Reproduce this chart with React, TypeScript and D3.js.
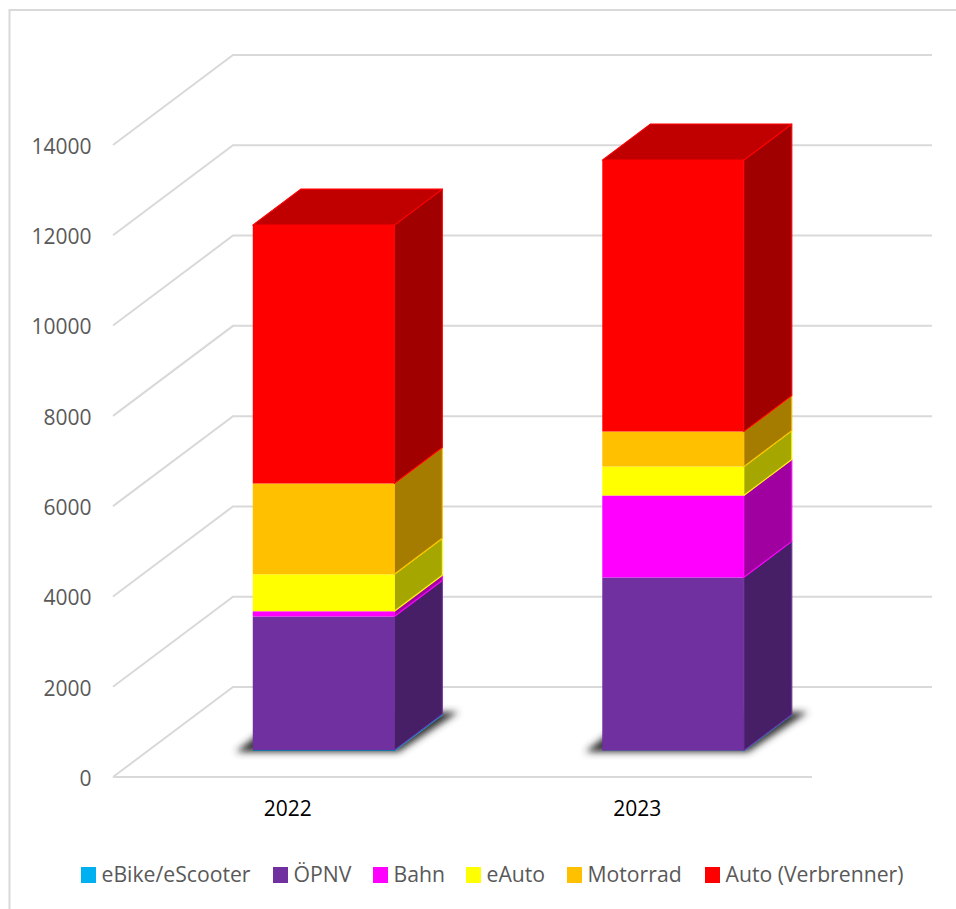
import React from "react";
import * as d3 from "d3";

const years = ["2022", "2023"];
const seriesNames = ["eBike/eScooter", "ÖPNV", "Bahn", "eAuto", "Motorrad", "Auto (Verbrenner)"];
const eBike = [18, 8];
const oepnv = [2960, 3835];
const bahn = [115, 1815];
const eAuto = [820, 640];
const motorrad = [2010, 775];
const autoVerbrenner = [5725, 6015];
const seriesValues = [eBike, oepnv, bahn, eAuto, motorrad, autoVerbrenner];
const frontColors = ["#1478A8", "#7030A0", "#FF00FF", "#FFFF00", "#FFC000", "#FF0000"];
const edgeColors = ["#00B0F0", "#7030A0", "#FF00FF", "#FFFF00", "#FFC000", "#FF0000"];
const sideColors = ["#006F98", "#471F66", "#A000A0", "#A6A600", "#A67C00", "#A00000"];
const axisTicks = [0, 2000, 4000, 6000, 8000, 10000, 12000, 14000];
const legendOffsets = [81, 273, 373, 466, 567, 705];
const TOP_COLOR = "#C00000";

const WIDTH = 956;
const HEIGHT = 909;
const GRID = "#D9D9D9";
const LABEL = "#595959";
const FONT = "'Open Sans', sans-serif";

// Front plane of the value axis; the oblique projection shifts by depth.
const yValue = d3.scaleLinear().domain([0, 14000]).range([777, 145]);
const depthX = d3.scaleLinear().domain([0, 1]).range([0, 120]);
const depthY = d3.scaleLinear().domain([0, 1]).range([0, -90]);
const xFloor = d3.scaleBand().domain(years).range([113, 812]);
const xBand = d3.scaleBand().domain(years).range([114, 813]).paddingInner(0.595).paddingOuter(0.2975);

const BAR_NEAR = 0.29;
const BAR_FAR = 0.69;

function project(x: number, value: number, depth: number): [number, number] {
  return [x + depthX(depth), yValue(value) + depthY(depth)];
}

function pts(list: [number, number][]): string {
  return list.map((p) => p.join(",")).join(" ");
}

function Bar({ year, index }: { year: string; index: number }) {
  const x0 = xBand(year) as number;
  const x1 = x0 + xBand.bandwidth();
  const stack = d3.cumsum(seriesValues.map((s) => s[index]));
  const total = stack[stack.length - 1];

  const [sx0, sy] = project(x0, 0, BAR_NEAR);
  const [sx1] = project(x1, 0, BAR_NEAR);
  const [fx1, fy] = project(x1, 0, BAR_FAR);
  const [fx0] = project(x0, 0, BAR_FAR);
  const shadow: [number, number][] = [
    [sx0 - 17, sy + 1],
    [sx1 + 4, sy + 1],
    [fx1 + 16, fy - 3],
    [fx0 - 14, fy - 3],
  ];

  return (
    <g>
      <polygon points={pts(shadow)} fill="#333333" filter="url(#floorShadow)" />
      {seriesValues.map((_, i) => {
        const lo = i === 0 ? 0 : stack[i - 1];
        const hi = stack[i];
        const a = project(x0, lo, BAR_NEAR);
        const b = project(x1, lo, BAR_NEAR);
        const c = project(x1, hi, BAR_NEAR);
        const d = project(x0, hi, BAR_NEAR);
        const e = project(x1, lo, BAR_FAR);
        const f = project(x1, hi, BAR_FAR);
        return (
          <g key={seriesNames[i]}>
            <polygon points={pts([b, e, f, c])} fill={sideColors[i]} stroke={edgeColors[i]} strokeWidth={1.1} strokeLinejoin="round" />
            <polygon points={pts([a, b, c, d])} fill={frontColors[i]} />
          </g>
        );
      })}
      <polygon
        points={pts([
          project(x0, total, BAR_NEAR),
          project(x1, total, BAR_NEAR),
          project(x1, total, BAR_FAR),
          project(x0, total, BAR_FAR),
        ])}
        fill={TOP_COLOR}
        stroke={edgeColors[5]}
        strokeWidth={1.1}
        strokeLinejoin="round"
      />
    </g>
  );
}

export default function App() {
  return (
    <svg
      width={WIDTH}
      height={HEIGHT}
      viewBox={`0 0 ${WIDTH} ${HEIGHT}`}
      style={{ position: "absolute", left: 0, top: 0, background: "#fff", fontFamily: FONT }}
    >
      <defs>
        <filter id="floorShadow" x="-20%" y="-40%" width="140%" height="180%">
          <feGaussianBlur stdDeviation="3.6" />
        </filter>
      </defs>
      {/* The frame runs along the top and left; its other sides fall outside the canvas */}
      <path d={`M9.5 ${HEIGHT} V10 H${WIDTH}`} fill="none" stroke={GRID} strokeWidth={2} />

      {/* Walls and floor gridlines */}
      {axisTicks.map((t) => {
        const [lx, ly] = project(113, t, 0);
        const [bx, by] = project(113, t, 1);
        const [rx, ry] = project(812, t, 1);
        return (
          <polyline
            key={t}
            points={pts([[lx, ly], [bx, by], [rx, ry]])}
            fill="none"
            stroke={GRID}
            strokeWidth={2}
          />
        );
      })}
      <line x1={113} x2={812} y1={yValue(0)} y2={yValue(0)} stroke={GRID} strokeWidth={2} />

      {axisTicks.map((t) => (
        <text key={t} x={91.5} y={yValue(t) + 1.5} dy="0.35em" textAnchor="end" fontSize={21} fill={LABEL}>
          {t}
        </text>
      ))}

      {years.map((y, i) => (
        <Bar key={y} year={y} index={i} />
      ))}

      {years.map((y) => (
        <text
          key={y}
          x={(xFloor(y) as number) + xFloor.bandwidth() / 2}
          y={809}
          dy="0.35em"
          textAnchor="middle"
          fontSize={21}
          fill="#000"
        >
          {y}
        </text>
      ))}

      {seriesNames.map((name, i) => (
        <g key={name} transform={`translate(${legendOffsets[i]},867)`}>
          <rect width={15} height={16} fill={edgeColors[i]} />
          <text x={20.5} y={8} dy="0.35em" fontSize={21.2} fill={LABEL}>
            {name}
          </text>
        </g>
      ))}
    </svg>
  );
}
